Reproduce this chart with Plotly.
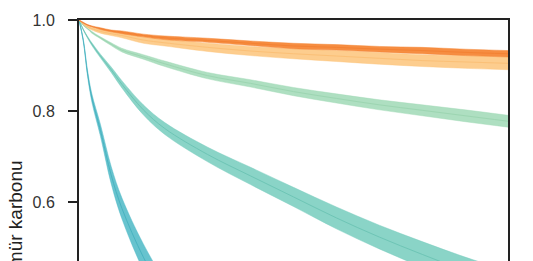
import plotly.graph_objects as go

# Years since application
years = [0, 1, 2, 3, 5, 7.5, 10, 15, 20, 30, 40, 50, 60, 70, 80, 90, 100]

# Series (mid, upper, lower) — fraction of biochar carbon remaining
teal_mid = [1.000, 0.955, 0.882, 0.829, 0.758, 0.660, 0.587, 0.480, 0.397, 0.275, 0.189, 0.138, 0.099, 0.074, 0.055, 0.042, 0.031]
teal_hi = [1.000, 0.958, 0.889, 0.838, 0.771, 0.679, 0.610, 0.509, 0.430, 0.315, 0.234, 0.185, 0.149, 0.125, 0.107, 0.095, 0.084]
teal_lo = [1.000, 0.953, 0.876, 0.820, 0.745, 0.641, 0.564, 0.451, 0.364, 0.235, 0.145, 0.091, 0.049, 0.025, 0.012, 0.006, 0.003]

tgreen_mid = [1.000, 0.979, 0.962, 0.947, 0.921, 0.891, 0.859, 0.803, 0.762, 0.705, 0.658, 0.612, 0.566, 0.524, 0.486, 0.450, 0.418]
tgreen_hi = [1.000, 0.980, 0.964, 0.950, 0.925, 0.897, 0.867, 0.814, 0.775, 0.721, 0.677, 0.633, 0.590, 0.550, 0.514, 0.480, 0.450]
tgreen_lo = [1.000, 0.978, 0.960, 0.944, 0.917, 0.885, 0.851, 0.792, 0.749, 0.689, 0.639, 0.591, 0.542, 0.498, 0.458, 0.420, 0.386]

green_mid = [1.000, 0.989, 0.981, 0.973, 0.961, 0.947, 0.934, 0.919, 0.904, 0.878, 0.861, 0.843, 0.828, 0.814, 0.802, 0.790, 0.778]
green_hi = [1.000, 0.990, 0.982, 0.975, 0.963, 0.950, 0.938, 0.924, 0.910, 0.885, 0.869, 0.852, 0.838, 0.825, 0.814, 0.803, 0.791]
green_lo = [1.000, 0.988, 0.980, 0.971, 0.959, 0.944, 0.930, 0.914, 0.898, 0.871, 0.853, 0.834, 0.818, 0.803, 0.790, 0.777, 0.765]

lorange_mid = [1.000, 0.991, 0.985, 0.981, 0.975, 0.970, 0.966, 0.956, 0.950, 0.940, 0.932, 0.926, 0.921, 0.916, 0.911, 0.908, 0.905]
lorange_hi = [1.000, 0.992, 0.987, 0.984, 0.979, 0.975, 0.971, 0.963, 0.958, 0.949, 0.942, 0.937, 0.933, 0.929, 0.924, 0.922, 0.919]
lorange_lo = [1.000, 0.990, 0.983, 0.978, 0.971, 0.966, 0.961, 0.949, 0.943, 0.931, 0.922, 0.915, 0.909, 0.903, 0.898, 0.894, 0.891]

orange_mid = [1.000, 0.994, 0.989, 0.986, 0.981, 0.976, 0.973, 0.966, 0.961, 0.955, 0.949, 0.943, 0.940, 0.936, 0.933, 0.929, 0.926]
orange_hi = [1.000, 0.995, 0.990, 0.987, 0.983, 0.978, 0.976, 0.969, 0.965, 0.960, 0.954, 0.949, 0.946, 0.942, 0.940, 0.936, 0.933]
orange_lo = [1.000, 0.993, 0.988, 0.985, 0.979, 0.974, 0.970, 0.963, 0.957, 0.951, 0.944, 0.937, 0.934, 0.930, 0.926, 0.922, 0.919]

y_ticks = [0.0, 0.2, 0.4, 0.6, 0.8, 1.0]
y_title = "Kalan biyokömür karbonu"

series = [
    (teal_lo, teal_mid, teal_hi, "rgba(76,184,198,0.85)", "#35a9b8"),
    (tgreen_lo, tgreen_mid, tgreen_hi, "rgba(118,204,189,0.85)", "#5cbcab"),
    (green_lo, green_mid, green_hi, "rgba(160,217,182,0.85)", "#92d0a8"),
    (lorange_lo, lorange_mid, lorange_hi, "rgba(253,196,122,0.85)", "#fbb868"),
    (orange_lo, orange_mid, orange_hi, "rgba(245,135,55,0.95)", "#f27b2b"),
]

fig = go.Figure()
for lo, mid, hi, fill, line in series:
    fig.add_trace(go.Scatter(x=years, y=hi, mode="lines", line=dict(width=0.5, color=fill, shape="spline"),
                             showlegend=False, hoverinfo="skip"))
    fig.add_trace(go.Scatter(x=years, y=lo, mode="lines", fill="tonexty", fillcolor=fill,
                             line=dict(width=0.5, color=fill, shape="spline"), showlegend=False, hoverinfo="skip"))
    fig.add_trace(go.Scatter(x=years, y=mid, mode="lines", line=dict(width=1, color=line, shape="spline"),
                             opacity=0.6, showlegend=False, hoverinfo="skip"))

fig.update_layout(
    width=533, height=520,
    margin=dict(l=79, r=15, t=17, b=35),
    plot_bgcolor="white", paper_bgcolor="white",
    font=dict(family="Liberation Sans, Arial, sans-serif", size=16, color="#333"),
)
fig.update_xaxes(range=[0, 100], showline=True, linecolor="#222", linewidth=2, mirror=True,
                 showgrid=False, zeroline=False, ticks="outside", ticklen=8, tickcolor="#222")
fig.update_yaxes(range=[0, 1], tickvals=y_ticks, tickformat=".1f", showline=True, linecolor="#222",
                 linewidth=2, mirror=True, showgrid=False, zeroline=False, ticks="outside", ticklen=9,
                 tickwidth=1.5, tickcolor="#222", ticklabelstandoff=10)

fig.add_annotation(text=y_title, textangle=-90, xref="paper", yref="paper",
                   x=(14 - 79) / 439, y=(485 - 272) / 468, xanchor="center", yanchor="middle",
                   showarrow=False, font=dict(size=19, color="#222"))

fig.write_html("out.html", config={"displayModeBar": False})
